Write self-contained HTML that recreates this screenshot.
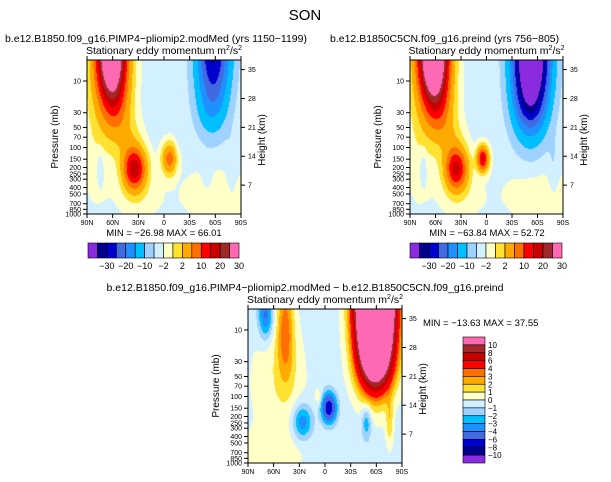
<!DOCTYPE html>
<html><head><meta charset="utf-8"><style>
body{margin:0;background:#fff;width:611px;height:482px;overflow:hidden;position:relative;font-family:"Liberation Sans",sans-serif}
svg{position:absolute;left:0;top:0}
</style></head><body>
<svg id="s" width="611" height="482" xmlns="http://www.w3.org/2000/svg" font-family="Liberation Sans, sans-serif">
<text x="305" y="20" font-size="15" text-anchor="middle">SON</text>
</svg>
<script>
// ---- data ----
const latTicks=["90N","60N","30N","0","30S","60S","90S"];
const presTicks=[10,30,50,70,100,150,200,250,300,400,500,700,850,1000];
const htTicks=[7,14,21,28,35];
const levelsTop=[-30,-25,-20,-15,-10,-5,-2,0,2,5,10,15,20,25,30];
const levelsDiff=[-10,-8,-6,-4,-3,-2,-1,0,1,2,3,4,6,8,10];
const colors=["#8a2be2","#00008b","#0000cd","#4169e1","#1e90ff","#00bfff","#a0d2ff","#d2f0ff","#ffffc8","#ffe132","#ffaa00","#ff6e00","#ff0000","#c80000","#a02828","#ff69b4"];
const topLabelsCb=["-30","-20","-10","-2","2","10","20","30"];
// blobs: [lat, heightKm, amplitude, latSpread, heightSpread]
const blobs1=[[62,40,50,12,9],[55,26,6,11,6],[42,18,3.5,10,4],[35,11,24,9,3.5],[-6,13.5,13,6,2.5],[-57,40,-26,13,9],[-55,26,-5,12,5],[-78,12,-1.5,4,5],[-15,14,-1.2,3,3],[-50,10,-1.5,4,3],[75,12,-2,3,3]];
const bg1=[[0,15,-0.6,400,400],[80,22,2,12,12],[-60,5,1.5,30,5],[30,4,1.2,20,4]];
const blobs2=[[63,40,55,12,9],[55,26,7,11,6],[42,18,3.5,10,4],[36,11,22,9,3.5],[5,13.5,22,4.5,2],[-52,40,-50,14,10],[-50,27,-10,13,6],[-78,12,-1.5,4,5],[75,12,-2,3,3]];
const bg2=[[0,15,-0.6,400,400],[80,22,2,12,12],[-60,5,1.5,30,5],[30,4,1.2,20,4]];
const blobs3=[[-58,40,40,14,10],[-58,27,8,13,6],[-60,23,2,16,5],[47,34,3.4,7,8],[45,24,0.8,8,6],[70,36,-4,6,4],[27,10,-3.5,8,3],[-4,13.5,-7,6,2.5],[-48,10,-2.5,4,3],[-75,10,2,3,4],[8,16,1.2,3,1.5]];
const bg3=[[0,15,-0.4,400,400],[55,20,1.2,22,10],[60,3,0.9,25,4]];
// ---- drawing ----
const S=document.getElementById('s');const NS="http://www.w3.org/2000/svg";
function el(t,a,p){const e=document.createElementNS(NS,t);for(const k in a)e.setAttribute(k,a[k]);(p||S).appendChild(e);return e;}
function txt(x,y,s,size,anchor,name,p){const e=el('text',{x:x,y:y,'font-size':size,'text-anchor':anchor||'start'},p);e.textContent=s;


return e;}
function val(lat,z,blobs,bg){let v=0;for(const b of blobs.concat(bg)){const dl=(lat-b[0])/b[3],dz=(z-b[1])/b[4];v+=b[2]*Math.exp(-0.5*(dl*dl+dz*dz));}return v;}
function colorIdx(v,lev){let i=0;while(i<lev.length&&v>=lev[i])i++;return i;}
function panel(px,py,w,h,blobs,bg,lev,name){
  const g=el('g',{});
  
  
  const dec=66.5*h/154;
  const yOfP=p=>py+h-(3-Math.log10(p))*dec;
  const c=document.createElement('canvas');c.width=w;c.height=h;const ctx=c.getContext('2d');const img=ctx.createImageData(w,h);
  for(let j=0;j<h;j++){const lp=3-(h-j)/dec;const p=Math.pow(10,lp);const z=7*Math.log(1000/p);
    for(let i=0;i<w;i++){const lat=90-180*i/w;const k=colorIdx(val(lat,z,blobs,bg),lev);const col=colors[k];
      const o=(j*w+i)*4;img.data[o]=parseInt(col.substr(1,2),16);img.data[o+1]=parseInt(col.substr(3,2),16);img.data[o+2]=parseInt(col.substr(5,2),16);img.data[o+3]=255;}}
  ctx.putImageData(img,0,0);
  const im=el('image',{x:px,y:py,width:w,height:h,href:c.toDataURL()},g);
  
  
  el('rect',{x:px,y:py,width:w,height:h,fill:'none',stroke:'#000','stroke-width':1},g);
  latTicks.forEach((t,i)=>{const x=px+w*i/6;el('line',{x1:x,x2:x,y1:py+h,y2:py+h+4,stroke:'#000'},g);el('line',{x1:x,x2:x,y1:py,y2:py-4,stroke:'#000'},g);txt(x,py+h+11,t,7,'middle','lat-tick-label',g);});
  presTicks.forEach(p=>{const y=yOfP(p);el('line',{x1:px-4,x2:px,y1:y,y2:y,stroke:'#000'},g);txt(px-6,y+2.5,String(p),7,'end','pressure-tick-label',g);});
  htTicks.forEach(z=>{const p=1000*Math.exp(-z/7);const y=yOfP(p);el('line',{x1:px+w,x2:px+w+4,y1:y,y2:y,stroke:'#000'},g);txt(px+w+7,y+2.5,String(z),7,'start','height-tick-label',g);});
  const a=txt(0,0,'Pressure (mb)',10,'middle','y-axis-title',g);a.setAttribute('transform',`translate(${px-29},${py+h/2}) rotate(-90)`);
  const b=txt(0,0,'Height (km)',10,'middle','right-axis-title',g);b.setAttribute('transform',`translate(${px+w+24},${py+h/2+3}) rotate(-90)`);
  const st=txt(px+w/2,py-6,'Stationary eddy momentum  m',10.5,'middle','panel-subtitle',g);
  const t1=el('tspan',{dy:-4,'font-size':7},st);t1.textContent='2';const t2=el('tspan',{dy:4},st);t2.textContent='/s';const t3=el('tspan',{dy:-4,'font-size':7},st);t3.textContent='2';
}
function hbar(x,y,w,h){const g=el('g',{});
  const bw=w/16;colors.forEach((c,i)=>el('rect',{x:x+i*bw,y:y,width:bw,height:h,fill:c,stroke:'#000','stroke-width':0.6},g));
  topLabelsCb.forEach((t,i)=>txt(x+bw*(2*i+2),y+h+11,t.replace('-','\u2212'),9,'middle','colorbar-label',g));}
panel(87,60,154,154,blobs1,bg1,levelsTop,'panel-pliomip');
panel(410,60,153,154,blobs2,bg2,levelsTop,'panel-preind');
panel(248,309,154,154,blobs3,bg3,levelsDiff,'panel-difference');
txt(5,42,'b.e12.B1850.f09_g16.PIMP4\u2212pliomip2.modMed (yrs 1150\u22121199)',10.5,'start','left-title');
txt(330,42,'b.e12.B1850C5CN.f09_g16.preind (yrs 756\u2212805)',10.5,'start','right-title');
txt(305,291,'b.e12.B1850.f09_g16.PIMP4\u2212pliomip2.modMed \u2212 b.e12.B1850C5CN.f09_g16.preind',10.5,'middle','diff-title');
txt(164,236,'MIN = \u221226.98   MAX =  66.01',9.5,'middle','left-minmax');
txt(487,236,'MIN = \u221263.84   MAX =  52.72',9.5,'middle','right-minmax');
txt(423,326,'MIN = \u221213.63   MAX =  37.55',9.5,'start','diff-minmax');
hbar(88,243,151,15);hbar(410,243,152,15);
(function(){const g=el('g',{});
  const x=463,y=337,w=22,h=126,bh=h/16;
  for(let i=0;i<16;i++)el('rect',{x:x,y:y+i*bh,width:w,height:bh,fill:colors[15-i],stroke:'#000','stroke-width':0.6},g);
  for(let i=0;i<15;i++)txt(x+w+3,y+bh*(i+1)+3,String(levelsDiff[14-i]).replace('-','\u2212'),8,'start','diff-colorbar-label',g);})();
</script>
</body></html>
